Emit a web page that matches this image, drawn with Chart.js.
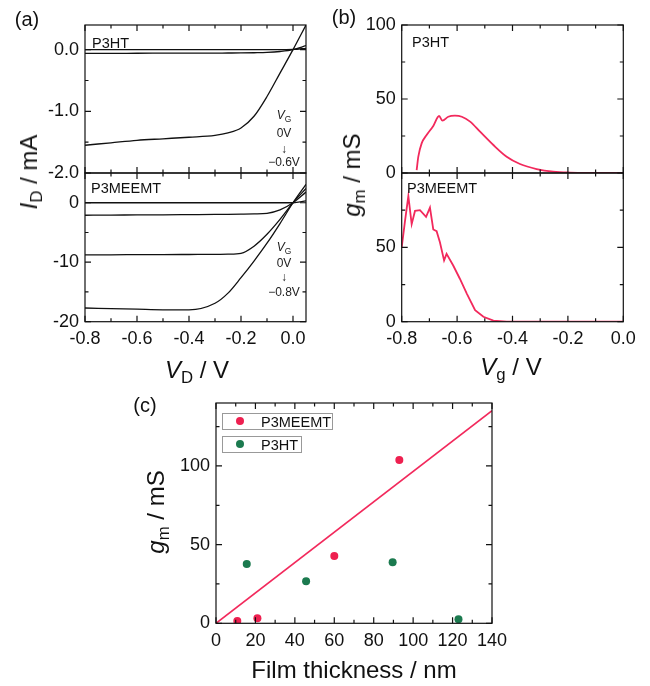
<!DOCTYPE html>
<html>
<head>
<meta charset="utf-8">
<script src="https://cdn.jsdelivr.net/npm/chart.js@4.4.1/dist/chart.umd.min.js"></script>
<style>
  body { margin: 0; background: #fff; }
  #fig { position: relative; width: 650px; height: 686px; overflow: hidden;
         font-family: 'Liberation Sans', Arial, sans-serif; color: #111; }
  #fig canvas { position: absolute; left: 0; top: 0; }
  .t { position: absolute; white-space: nowrap; line-height: 1; transform: translate(-50%, -50%); }
  .rot { transform: translate(-50%, -50%) rotate(-90deg); }
  .ax { font-size: 24px; }
  .pl { font-size: 20px; }
  .an { font-size: 12px; color: #222; }
  .nm { position: absolute; font-size: 14.5px; line-height: 1; transform: translateY(-50%); white-space: nowrap; }
  .sb { font-size: 0.7em; position: relative; top: 0.32em; }
  .lgbox { position: absolute; border: 1px solid #999; box-sizing: border-box; }
  .dot { position: absolute; width: 8px; height: 8px; border-radius: 50%; transform: translate(-50%, -50%); }
</style>
</head>
<body>
<div id="fig">
  <canvas id="aTop" width="650" height="686"></canvas>
  <canvas id="aBot" width="650" height="686"></canvas>
  <canvas id="bTop" width="650" height="686"></canvas>
  <canvas id="bBot" width="650" height="686"></canvas>
  <canvas id="cFilm" width="650" height="686"></canvas>

  <div class="t pl" style="left:27px;top:19px">(a)</div>
  <div class="t pl" style="left:344px;top:17px">(b)</div>
  <div class="t pl" style="left:145px;top:405px">(c)</div>

  <div class="nm" style="left:92px;top:43px">P3HT</div>
  <div class="nm" style="left:91px;top:188px">P3MEEMT</div>
  <div class="nm" style="left:412px;top:42px">P3HT</div>
  <div class="nm" style="left:407px;top:188px">P3MEEMT</div>

  <div class="t an" style="left:284px;top:115px"><i>V</i><span class="sb">G</span></div>
  <div class="t an" style="left:284px;top:133px">0V</div>
  <div class="t an" style="left:284px;top:149px">↓</div>
  <div class="t an" style="left:284px;top:162px">−0.6V</div>
  <div class="t an" style="left:284px;top:247px"><i>V</i><span class="sb">G</span></div>
  <div class="t an" style="left:284px;top:263px">0V</div>
  <div class="t an" style="left:284px;top:277px">↓</div>
  <div class="t an" style="left:284px;top:292px">−0.8V</div>

  <div class="t ax rot" style="left:29px;top:172px"><i>I</i><span class="sb">D</span> / mA</div>
  <div class="t ax" style="left:197px;top:370px"><i>V</i><span class="sb">D</span> / V</div>
  <div class="t ax rot" style="left:352px;top:175px"><i>g</i><span class="sb">m</span> / mS</div>
  <div class="t ax" style="left:511px;top:367px"><i>V</i><span class="sb">g</span> / V</div>
  <div class="t ax rot" style="left:156px;top:512px"><i>g</i><span class="sb">m</span> / mS</div>
  <div class="t ax" style="left:354px;top:670px">Film thickness / nm</div>

  <div class="lgbox" style="left:222px;top:413px;width:111px;height:17px"></div>
  <div class="dot" style="left:240px;top:421px;background:#ee2050"></div>
  <div class="nm" style="left:261px;top:422px">P3MEEMT</div>
  <div class="lgbox" style="left:222px;top:436px;width:80px;height:17px"></div>
  <div class="dot" style="left:240px;top:444px;background:#1b7a4f"></div>
  <div class="nm" style="left:261px;top:445px">P3HT</div>
</div>

<script>
// output curves (drain sweep), one array per gate voltage
const vdSweep = [-0.8, -0.7, -0.6, -0.5, -0.4, -0.3, -0.25, -0.2, -0.15, -0.1, -0.05, 0, 0.05];
const idP3HT_0 = [0, 0, 0, 0, 0, 0, 0, 0, 0, 0, 0, 0.005, 0.02];
const idP3HT_m03 = [-0.06, -0.06, -0.058, -0.057, -0.056, -0.055, -0.054, -0.053, -0.05, -0.045, -0.03, 0, 0.065];
const idP3HT_m06 = [-1.55, -1.51, -1.47, -1.445, -1.42, -1.39, -1.35, -1.27, -1.08, -0.76, -0.38, 0, 0.4];
const idMEEMT_0 = [0, 0, 0, 0, 0, 0, 0, 0, 0, 0, 0, 0, 0.3];
const idMEEMT_m02 = [-2.1, -2.08, -2.05, -2.03, -2.0, -1.97, -1.95, -1.92, -1.88, -1.78, -1.2, 0, 1.8];
const idMEEMT_m05 = [-8.75, -8.75, -8.73, -8.72, -8.7, -8.68, -8.65, -8.5, -7.3, -5.3, -2.8, 0, 2.4];
const idMEEMT_m08 = [-17.7, -17.8, -17.9, -18.0, -18.0, -16.9, -15.2, -12.6, -9.8, -6.8, -3.5, 0, 3.1];

// transconductance vs gate voltage
const vgP3HT = [-0.746, -0.740, -0.728, -0.710, -0.686, -0.665, -0.653, -0.632, -0.608, -0.583, -0.553, -0.517, -0.469, -0.421, -0.373, -0.313, -0.253, -0.192, -0.1, 0];
const gmP3HT = [2.0, 11, 20, 25.7, 31.8, 38.5, 35.4, 38, 38.7, 38, 34.7, 27.9, 18.9, 11, 6.1, 2.7, 0.9, 0.3, 0.1, 0];
const vgMEEMT = [-0.8, -0.788, -0.776, -0.764, -0.752, -0.734, -0.712, -0.698, -0.686, -0.674, -0.662, -0.647, -0.638, -0.614, -0.59, -0.565, -0.535, -0.505, -0.469, -0.421, -0.3, 0];
const gmMEEMT = [50, 67.8, 84.5, 65.6, 74.5, 75, 70.5, 76.7, 62, 60.9, 53.4, 41.2, 45.6, 37.8, 28.9, 18.9, 7.8, 3.3, 0.7, 0.1, 0, 0];

// peak gm vs film thickness
const thickMEEMT = [10.8, 21, 60, 93];
const gmFilmMEEMT = [1.5, 3.2, 42.8, 103.8];
const thickP3HT = [15.6, 45.7, 89.6, 123];
const gmFilmP3HT = [37.7, 26.7, 38.8, 2.5];
const fitThick = [0, 140];
const fitGm = [0, 135.1];

// tick positions
const vTicks = [-0.8, -0.6, -0.4, -0.2, 0];
const vMinor = [-0.7, -0.5, -0.3, -0.1];
const idTicksP3HT = [-2, -1, 0];
const idMinorP3HT = [-1.5, -0.5];
const idTicksMEEMT = [-20, -10, 0];
const idMinorMEEMT = [-15, -5];
const gmTicksTop = [0, 50, 100];
const gmTicksBot = [0, 50];
const gmMinor = [25, 75];
const thickTicks = [0, 20, 40, 60, 80, 100, 120, 140];
const thickMinor = [10, 30, 50, 70, 90, 110, 130];
const gmFilmTicks = [0, 50, 100];
const gmFilmMinor = [25, 75, 125];

const BLACK = '#111';
const PINK = '#f2295c';
const RED = '#ee2050';
const GREEN = '#1b7a4f';

Chart.defaults.font.family = "'Liberation Sans', Arial, sans-serif";
Chart.defaults.font.size = 18;
Chart.defaults.color = '#111';

const pts = (xs, ys) => xs.map((x, i) => ({ x, y: ys[i] }));

// box + inward ticks on all four sides
const frameTicks = {
  id: 'frameTicks',
  afterDatasetsDraw(chart, args, o) {
    const { ctx, chartArea: a } = chart;
    const sx = chart.scales.x, sy = chart.scales.y;
    ctx.save();
    ctx.strokeStyle = BLACK;
    ctx.lineWidth = 1.2;
    ctx.beginPath();
    const put = (vals, len, horiz) => vals.forEach(v => {
      if (horiz) {
        const px = sx.getPixelForValue(v);
        ctx.moveTo(px, a.bottom); ctx.lineTo(px, a.bottom - len);
        ctx.moveTo(px, a.top); ctx.lineTo(px, a.top + len);
      } else {
        const py = sy.getPixelForValue(v);
        ctx.moveTo(a.left, py); ctx.lineTo(a.left + len, py);
        ctx.moveTo(a.right, py); ctx.lineTo(a.right - len, py);
      }
    });
    put(o.xMajor, 6, true); put(o.xMinor, 3.5, true);
    put(o.yMajor, 6, false); put(o.yMinor, 3.5, false);
    ctx.stroke();
    ctx.strokeRect(a.left, a.top, a.width, a.height);
    ctx.restore();
  }
};

function axis(o, dir) {
  return {
    type: 'linear',
    min: o.min,
    max: o.max,
    grid: { display: false, drawTicks: false },
    border: { display: false },
    afterFit: s => {
      if (dir === 'x') s.height = o.labels ? 30 : 0;
      else s.width = 50;
    },
    afterBuildTicks: s => { s.ticks = o.major.map(v => ({ value: v })); },
    ticks: {
      display: o.labels,
      padding: dir === 'x' ? 7 : 6,
      autoSkip: false,
      maxRotation: 0,
      callback: v => o.fmt(v)
    }
  };
}

function curve(xs, ys, color, width, smooth) {
  return {
    data: pts(xs, ys),
    showLine: true,
    borderColor: color,
    borderWidth: width,
    pointRadius: 0,
    cubicInterpolationMode: smooth ? 'monotone' : 'default',
    tension: 0
  };
}

function panel(id, pad, xo, yo, datasets, marks) {
  return new Chart(document.getElementById(id), {
    type: 'scatter',
    data: { datasets },
    plugins: [frameTicks],
    options: {
      animation: false,
      responsive: false,
      events: [],
      layout: { padding: pad },
      plugins: { legend: { display: false }, tooltip: { enabled: false }, frameTicks: marks },
      scales: { x: axis(xo, 'x'), y: axis(yo, 'y') }
    }
  });
}

const fix1 = v => v.toFixed(1);
const fix0 = v => v.toFixed(0);

// (a) output characteristics
panel('aTop', { left: 35, right: 344, top: 25, bottom: 513 },
  { min: -0.8, max: 0.05, major: vTicks, labels: false, fmt: fix1 },
  { min: -2, max: 0.4, major: idTicksP3HT, labels: true, fmt: fix1 },
  [curve(vdSweep, idP3HT_0, BLACK, 1.3, true),
   curve(vdSweep, idP3HT_m03, BLACK, 1.3, true),
   curve(vdSweep, idP3HT_m06, BLACK, 1.3, true)],
  { xMajor: vTicks, xMinor: vMinor, yMajor: idTicksP3HT, yMinor: idMinorP3HT });

panel('aBot', { left: 35, right: 344, top: 173, bottom: 334.3 },
  { min: -0.8, max: 0.05, major: vTicks, labels: true, fmt: fix1 },
  { min: -20, max: 5, major: idTicksMEEMT, labels: true, fmt: fix0 },
  [curve(vdSweep, idMEEMT_0, BLACK, 1.3, true),
   curve(vdSweep, idMEEMT_m02, BLACK, 1.3, true),
   curve(vdSweep, idMEEMT_m05, BLACK, 1.3, true),
   curve(vdSweep, idMEEMT_m08, BLACK, 1.3, true)],
  { xMajor: vTicks, xMinor: vMinor, yMajor: idTicksMEEMT, yMinor: idMinorMEEMT });

// (b) transconductance
panel('bTop', { left: 351.7, right: 26.7, top: 25, bottom: 513 },
  { min: -0.8, max: 0, major: vTicks, labels: false, fmt: fix1 },
  { min: 0, max: 100, major: gmTicksTop, labels: true, fmt: fix0 },
  [curve(vgP3HT, gmP3HT, PINK, 1.8, true)],
  { xMajor: vTicks, xMinor: vMinor, yMajor: gmTicksTop, yMinor: gmMinor });

panel('bBot', { left: 351.7, right: 26.7, top: 173, bottom: 334.3 },
  { min: -0.8, max: 0, major: vTicks, labels: true, fmt: fix1 },
  { min: 0, max: 100, major: gmTicksBot, labels: true, fmt: fix0 },
  [curve(vgMEEMT, gmMEEMT, PINK, 1.8, false)],
  { xMajor: vTicks, xMinor: vMinor, yMajor: gmTicksBot, yMinor: gmMinor });

// (c) gm vs film thickness
panel('cFilm', { left: 166, right: 158, top: 403, bottom: 32.7 },
  { min: 0, max: 140, major: thickTicks, labels: true, fmt: fix0 },
  { min: 0, max: 140, major: gmFilmTicks, labels: true, fmt: fix0 },
  [curve(fitThick, fitGm, PINK, 1.5, false),
   { data: pts(thickMEEMT, gmFilmMEEMT), pointRadius: 4, pointBackgroundColor: RED, pointBorderWidth: 0 },
   { data: pts(thickP3HT, gmFilmP3HT), pointRadius: 4, pointBackgroundColor: GREEN, pointBorderWidth: 0 }],
  { xMajor: thickTicks, xMinor: thickMinor, yMajor: gmFilmTicks, yMinor: gmFilmMinor });
</script>
</body>
</html>
